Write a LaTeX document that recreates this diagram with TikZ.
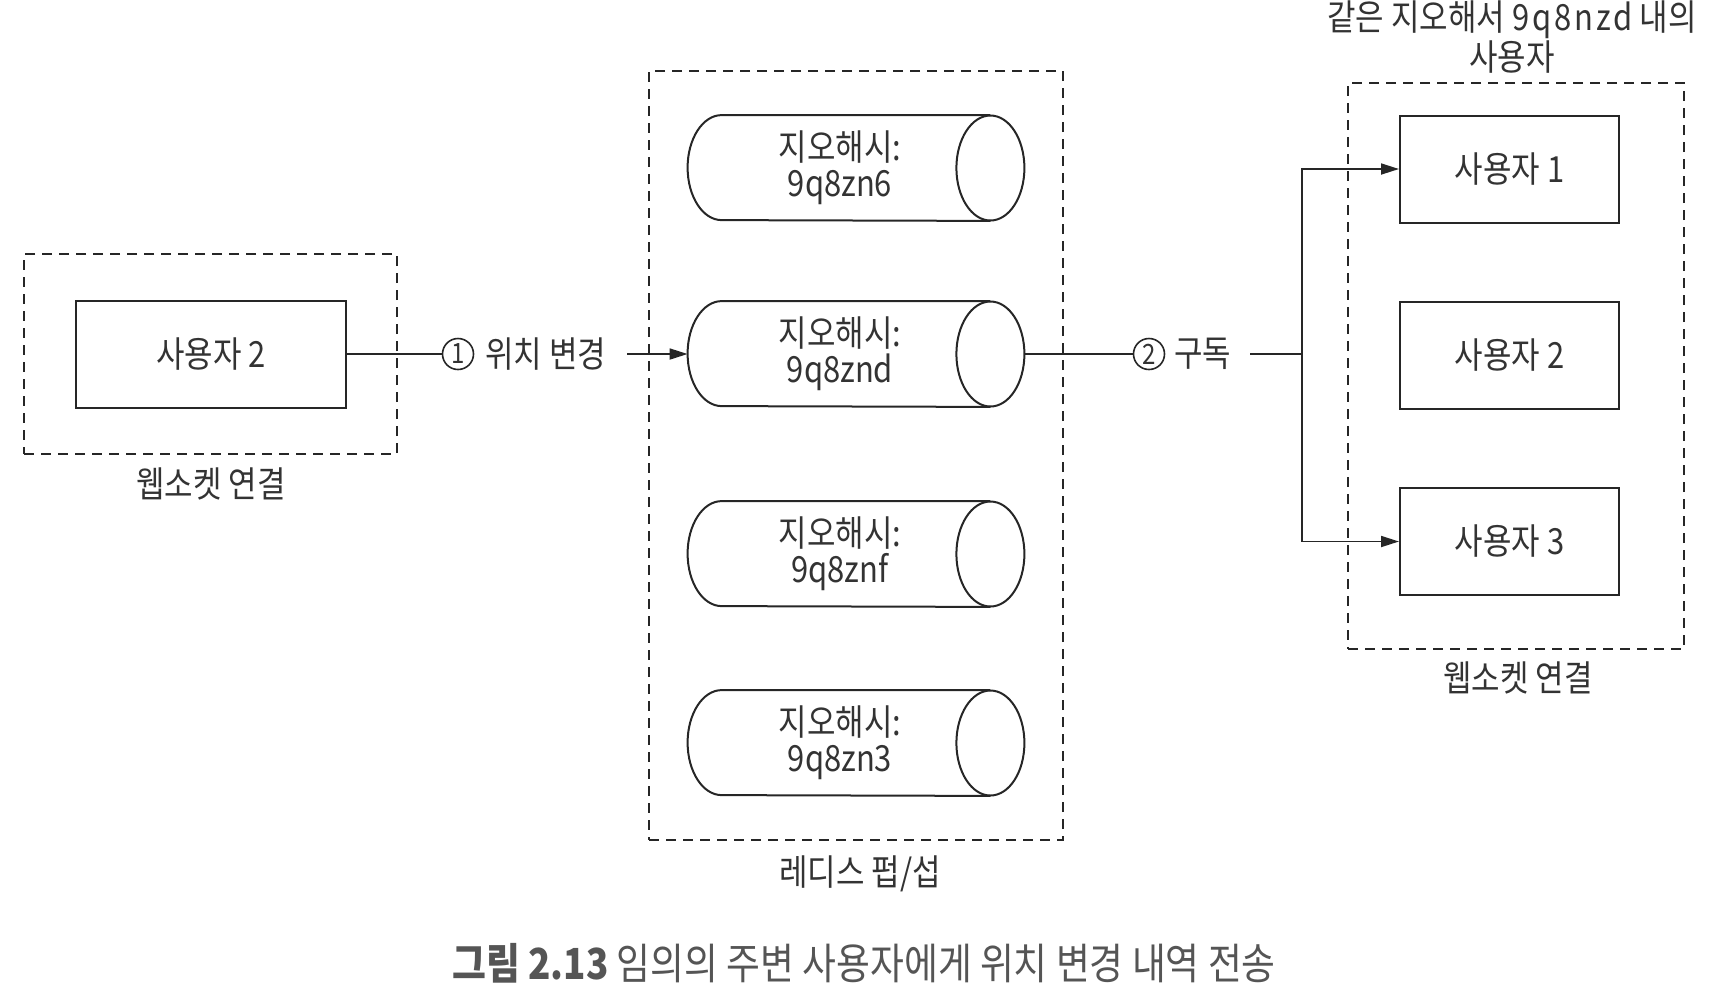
\documentclass[tikz,border=0pt]{standalone}
\usepackage{fontspec}
\setmainfont{Noto Sans CJK KR}[FakeStretch=0.86]
\usetikzlibrary{arrows.meta,calc}
\definecolor{ink}{HTML}{333333}
\definecolor{capgray}{HTML}{555555}
\newcommand\geocyl[3]{%
  \node[minimum width=168pt, minimum height=52.5pt, inner sep=0pt] (#1) at (856,-#2) {};
  \draw[cylline] ($(#1.north east)+(-34,0)$) -- ($(#1.north west)+(34,0)$)
     arc[start angle=90, end angle=270, x radius=17pt, y radius=26.25pt]
     -- ($(#1.south east)+(-34,0)$);
  \draw[cylline] ($(#1.east)+(-34,0)$) ellipse[x radius=17pt, y radius=26.25pt];
  \node[lbl, align=center] at ($(#1)+(-16,0)$) {지오해시:\\#3};
}
\begin{document}
\begin{tikzpicture}[x=0.5pt,y=0.5pt,
  dashbox/.style={draw=black!85, line width=1pt, dash pattern=on 5pt off 3.5pt, inner sep=0pt},
  userbox/.style={draw=black!85, line width=1pt, minimum width=109.5pt, minimum height=53.5pt,
                  inner sep=0pt, font=\fontsize{18}{20}\selectfont, text=ink},
  lbl/.style={text=ink, font=\fontsize{18}{18}\selectfont, inner sep=0pt},
  cylline/.style={draw=black!85, line width=1pt},
  conn/.style={draw=black!85, line width=0.9pt},
  arr/.style={conn, -{Triangle[length=9pt,width=5.5pt]}},
  numc/.style={circle, draw=black!85, line width=0.8pt, minimum size=15.5pt, inner sep=0pt,
               font=\fontsize{14}{14}\selectfont, text=ink}]
\useasboundingbox (0,0) rectangle (1736,-998);

% left websocket group
\node[dashbox, minimum width=186.5pt, minimum height=100pt] (wsL) at (210.5,-354) {};
\node[userbox, minimum width=135pt] (u0) at (211,-354) {사용자 2};
\node[lbl] (wsLl) at (211,-484) {웹소켓 연결};

% redis pub/sub
\node[dashbox, minimum width=207pt, minimum height=384.5pt] (redis) at (856,-455.5) {};
\geocyl{g1}{168}{9q8zn6}
\geocyl{g2}{354}{9q8znd}
\geocyl{g3}{554}{9q8znf}
\geocyl{g4}{743}{9q8zn3}
\node[lbl] (redisl) at (860,-874) {레디스 펍/섭};

% right websocket group
\node[dashbox, minimum width=168pt, minimum height=283pt] (wsR) at (1516,-366) {};
\node[userbox] (r1) at (1509.5,-169) {사용자 1};
\node[userbox] (r2) at (1509.5,-355) {사용자 2};
\node[userbox] (r3) at (1509.5,-541.5) {사용자 3};
\node[lbl, align=center, font=\fontsize{18}{17.5}\selectfont] (ttl) at (1512,-37)
  {같은 지오해서 {\addfontfeatures{LetterSpace=8}9q8nzd} 내의\\사용자};
\node[lbl] (wsRl) at (1518,-678) {웹소켓 연결};

% step 1
\node[numc] (c1) at (458,-354) {1};
\node[lbl, anchor=west] (t1) at (485,-354) {위치 변경};
\coordinate (a1) at (627,-354);
\draw[conn] (u0.east) -- (c1.west);
\draw[arr] (a1) -- (g2.west);

% step 2
\node[numc] (c2) at (1149,-354) {2};
\node[lbl, anchor=west] (t2) at (1174,-354) {구독};
\coordinate (b1) at (1250,-354);
\coordinate (j) at (1302,-354);
\draw[conn] (g2.east) -- (c2.west);
\draw[conn] (b1) -- (j);
\draw[arr] (j) |- (r1.west);
\draw[arr] (j) |- (r3.west);

% caption
\node[font=\fontsize{21.4}{25}\selectfont, text=capgray, inner sep=0pt] (cap) at (864,-963)
  {\textbf{그림 2.13} 임의의 주변 사용자에게 위치 변경 내역 전송};
\end{tikzpicture}
\end{document}
